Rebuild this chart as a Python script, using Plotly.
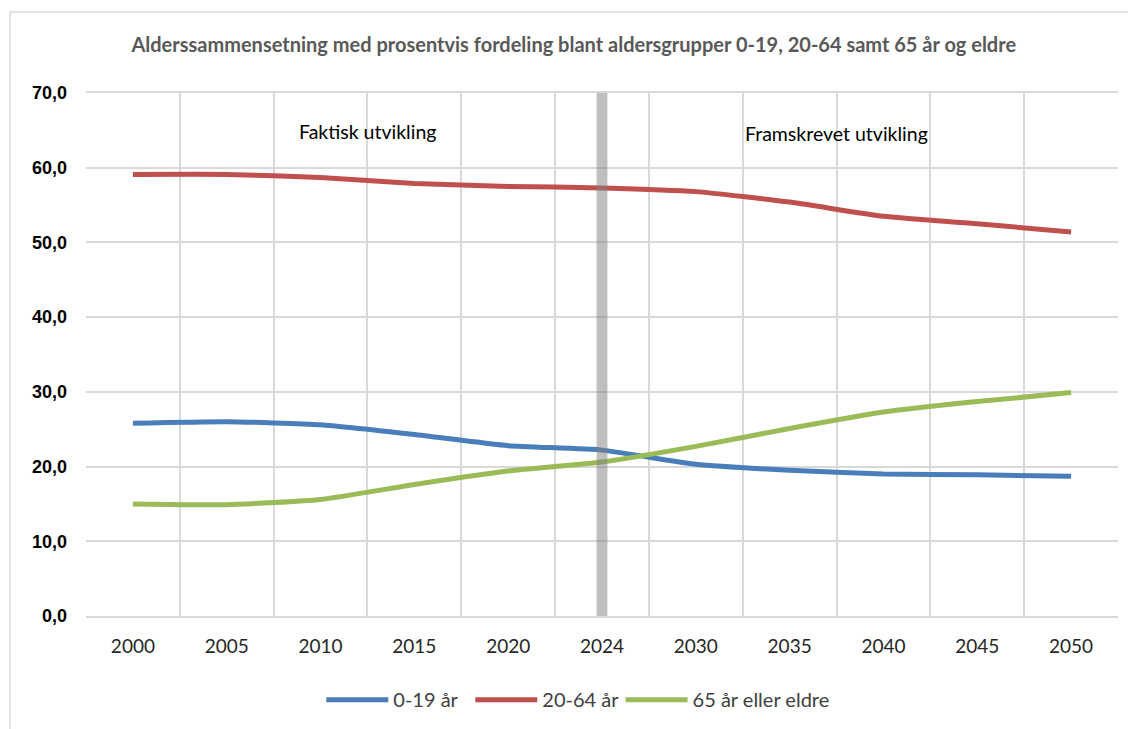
import plotly.graph_objects as go

years = ["2000", "2005", "2010", "2015", "2020", "2024", "2030", "2035", "2040", "2045", "2050"]
age_0_19 = [25.8, 26.0, 25.6, 24.3, 22.8, 22.2, 20.3, 19.5, 19.0, 18.9, 18.7]
age_20_64 = [59.1, 59.1, 58.7, 57.9, 57.5, 57.3, 56.8, 55.4, 53.5, 52.5, 51.4]
age_65_plus = [15.0, 14.9, 15.6, 17.6, 19.4, 20.6, 22.7, 25.1, 27.3, 28.7, 29.9]
series_names = ["0-19 år", "20-64 år", "65 år eller eldre"]
colors = ["#4A7EBB", "#C0504D", "#9BBB59"]
legend_ids = ["legend", "legend", "legend2"]

title = "Alderssammensetning med prosentvis fordeling blant aldersgrupper 0-19, 20-64 samt 65 år og eldre"
label_left = "Faktisk utvikling"
label_right = "Framskrevet utvikling"
divider_year = "2024"

fig = go.Figure()
for name, vals, col, lg in zip(series_names, [age_0_19, age_20_64, age_65_plus], colors, legend_ids):
    fig.add_trace(go.Scatter(
        x=years, y=vals, name=name, mode="lines", legend=lg,
        line=dict(color=col, width=5, shape="spline", smoothing=0.5),
        hoverinfo="x+y+name",
    ))

div_idx = years.index(divider_year)
fig.add_shape(type="rect", xref="x", yref="y",
              x0=div_idx - 0.058, x1=div_idx + 0.058, y0=0, y1=70.4,
              fillcolor="rgba(128,128,128,0.5)", line=dict(width=0), layer="above")

# outer chart border
fig.add_shape(type="rect", xref="paper", yref="paper",
              x0=-0.0736, x1=1.2, y0=-0.3, y1=1.155,
              line=dict(color="#D9D9D9", width=1.5), fillcolor="rgba(0,0,0,0)", layer="below")

fig.add_annotation(x=2.5, y=64.9, xref="x", yref="y", text=label_left, showarrow=False,
                   font=dict(family="Lato, Liberation Sans", size=19.5, color="#000000"))
fig.add_annotation(x=7.5, y=64.6, xref="x", yref="y", text=label_right, showarrow=False,
                   font=dict(family="Lato, Liberation Sans", size=19.5, color="#000000"))

legend_font = dict(family="Lato, Liberation Sans", size=20, color="#404040")

fig.update_layout(
    width=1136, height=729,
    margin=dict(l=78, r=26, t=85, b=121),
    paper_bgcolor="white", plot_bgcolor="white",
    separators=", ",
    title=dict(text=title, x=0.498, xanchor="center", y=0.949, yanchor="middle",
               font=dict(family="Lato, Liberation Sans", size=20, color="#595959", weight="bold")),
    xaxis=dict(type="category", categoryorder="array", categoryarray=years,
               range=[-0.5, 10.5], tickson="boundaries", ticks="",
               showgrid=True, gridcolor="#D9D9D9", gridwidth=1.5,
               showline=True, linecolor="#D9D9D9", linewidth=1.5, mirror=True,
               tickfont=dict(family="Lato, Liberation Sans", size=19, color="#262626"),
               ticklabelstandoff=12),
    yaxis=dict(range=[0, 70], dtick=10, tickformat=".1f",
               showgrid=True, gridcolor="#D9D9D9", gridwidth=1.5, zeroline=False,
               showline=False, ticks="",
               tickfont=dict(family="Liberation Sans", size=18, color="#000000", weight="bold"),
               ticklabelstandoff=18),
    legend=dict(orientation="h", x=0.228, xanchor="left", y=-0.16, yanchor="middle",
                font=legend_font, itemwidth=62, entrywidth=72, entrywidthmode="pixels",
                traceorder="normal"),
    legend2=dict(orientation="h", x=0.518, xanchor="left", y=-0.16, yanchor="middle",
                 font=legend_font, itemwidth=62, traceorder="normal"),
    showlegend=True,
)

fig.write_html("out.html")
